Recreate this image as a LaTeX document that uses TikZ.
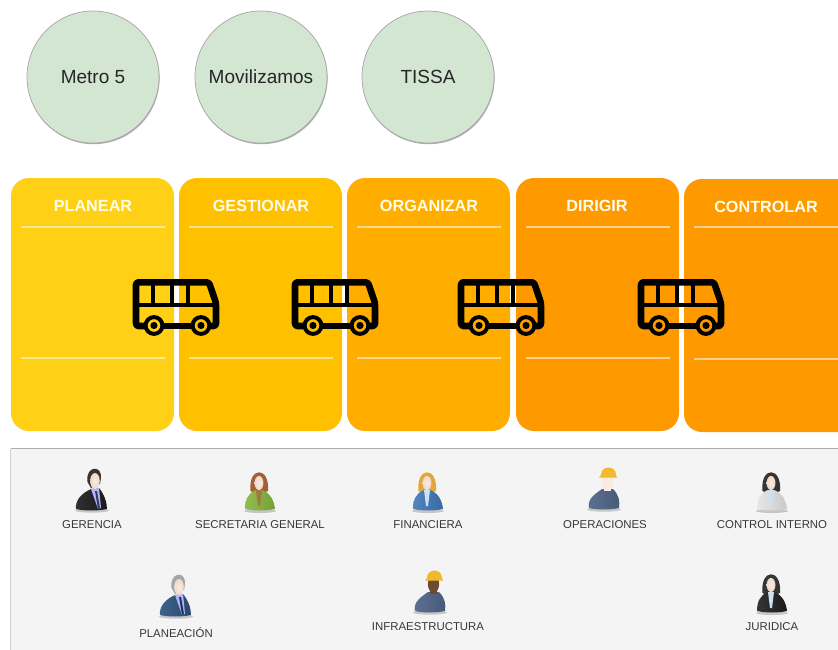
\documentclass[tikz,border=0pt]{standalone}
\usepackage{fontspec}
\setmainfont{Liberation Sans}
\usetikzlibrary{shadows}
\definecolor{cardA}{HTML}{FFD015}
\definecolor{cardB}{HTML}{FFC000}
\definecolor{cardC}{HTML}{FFAE00}
\definecolor{cardD}{HTML}{FF9900}
\definecolor{cardE}{HTML}{FF9900}
\definecolor{skinL}{HTML}{F9EAE2}
\definecolor{skinD}{HTML}{6E4A30}
\definecolor{circfill}{HTML}{D3E6D2}
\definecolor{hatc}{HTML}{F2B92C}
\definecolor{workc}{HTML}{4F6488}
\definecolor{greenj}{HTML}{86B53C}
\definecolor{bluej}{HTML}{3F78B8}
\definecolor{navyj}{HTML}{2F557F}
\definecolor{darkj}{HTML}{1E1E1E}
\definecolor{whitej}{HTML}{E4E4E4}
\definecolor{hairblack}{HTML}{353535}
\definecolor{hairgrey}{HTML}{A6A6A6}
\definecolor{hairred}{HTML}{A5603A}
\definecolor{hairblond}{HTML}{E0A83C}
\definecolor{tiedark}{HTML}{2E3E55}
\definecolor{tienavy}{HTML}{1D3550}
\definecolor{blouseb}{HTML}{A07A40}
\definecolor{blousec}{HTML}{CFE0F2}
\tikzset{
  circ/.style={circle,draw=black!35,line width=.7pt,fill=circfill,minimum size=132pt,inner sep=0pt,font=\fontsize{19}{21}\selectfont,text=black!85,
    drop shadow={shadow xshift=.6pt,shadow yshift=-1.2pt,fill=black!40,opacity=.8}},
  card/.style={rounded corners=18pt},
  headline/.style={draw=white,opacity=.55,line width=1.2pt},
  headtext/.style={text=white!92!yellow,font=\fontsize{16.2}{18}\selectfont\bfseries},
  lab/.style={font=\fontsize{11.4}{13}\selectfont,text=black!78,inner sep=0pt},
  pics/bus/.style={code={
    \draw[black,line width=6.6pt,line join=round,rounded corners=2.5pt] (12,47) -- (3,47) -- (3,3.3) -- (76,3.3) -- (83,24) -- (83,47) -- (78,47);
    \draw[black,line width=3.2pt] (3,26) -- (83,26) (20,3) -- (20,26) (39,3) -- (39,26) (55,3) -- (55,26);
    \draw[black,line width=6.6pt] (30,47) -- (59,47);
    \draw[black,line width=4pt] (21,46.5) circle (8.4) (68,46.5) circle (8.4);
    \fill[black] (21,46.5) circle (3.6) (68,46.5) circle (3.6);
  }},
  pics/manperson/.style n args={3}{code={
    \fill[black!40,opacity=.5] (0,-1.5) ellipse (17 and 2.2);
    \shade[left color=#2!92!white,right color=#2!85!black] (-16,-3) .. controls (-17,-12) and (-10,-19) .. (-1,-23) -- (7,-24) .. controls (12,-18) and (15,-10) .. (15,-3) .. controls (6,-1) and (-8,-1) .. cycle;
    \fill[white!70!blue] (-1,-23) -- (7,-24) -- (9,-4) -- (6,-3) -- cycle;
    \fill[#3] (3,-21) -- (5,-21) -- (8,-4) -- (6,-3) -- cycle;
    \fill[#1] (-4.5,-30) .. controls (-7,-46) and (10,-48) .. (9,-34) -- (8,-28) -- (-1,-24) -- cycle;
    \shade[inner color=skinL,outer color=skinL!85!brown] (3,-31) ellipse (4.8 and 8);
  }},
  pics/womanperson/.style n args={3}{code={
    \fill[black!40,opacity=.5] (0,-1) ellipse (16 and 2);
    \fill[#1] (-9.5,-21) .. controls (-12,-46) and (10,-46) .. (8,-21) .. controls (3,-18) and (-5,-18) .. cycle;
    \shade[left color=#2!90!white,right color=#2!88!black] (-15,-3) .. controls (-15,-12) and (-12,-19) .. (-4,-22) -- (2,-22) .. controls (10,-19) and (14,-12) .. (15,-3) .. controls (6,-1) and (-6,-1) .. cycle;
    \fill[#3] (-4,-22) -- (2,-22) -- (0,-6) -- (-2,-6) -- cycle;
    \shade[inner color=skinL,outer color=skinL!85!brown] (-1,-29) ellipse (4.4 and 7);
  }},
  pics/workerperson/.style={code={
    \fill[black!40,opacity=.5] (0,-1.5) ellipse (17 and 2.2);
    \shade[left color=workc!92!white,right color=workc!90!black] (-15,-3) .. controls (-17,-12) and (-9,-17) .. (-2,-22) -- (9,-22) .. controls (15,-16) and (16,-10) .. (15,-3) .. controls (6,-1) and (-7,-1) .. cycle;
    \fill[#1] (3.5,-30) ellipse (5.6 and 9);
    \fill[#1] (0,-26) rectangle (7,-20);
    \fill[hatc] (-3,-36) .. controls (-3,-46) and (12,-46) .. (12,-36) -- (13,-33.5) -- (-5,-33.5) -- cycle;
  }},
}
\begin{document}
\begin{tikzpicture}[x=1pt,y=-1pt]
\useasboundingbox (0,0) rectangle (838,650);
\fill[white] (0,0) rectangle (838,650);
\clip (0,0) rectangle (838,650);
% circles
\node[circ] (metro) at (93,77) {Metro 5};
\node[circ] (movil) at (261,77) {Movilizamos};
\node[circ] (tissa) at (428,77) {TISSA};
% cards
\fill[card,cardA] (11,178) rectangle (174,431);
\fill[card,cardB] (179,178) rectangle (342,431);
\fill[card,cardC] (347,178) rectangle (510,431);
\fill[card,cardD] (516,178) rectangle (679,431);
\fill[card,cardE] (684,179) rectangle (860,432);
\node[headtext] (planear) at (93,206) {PLANEAR};
\node[headtext] (gestionar) at (261,206) {GESTIONAR};
\node[headtext] (organizar) at (429,206) {ORGANIZAR};
\node[headtext] (dirigir) at (597,206) {DIRIGIR};
\node[headtext] (controlar) at (766,207) {CONTROLAR};
\foreach \a/\y in {21/227,21/358,189/227,189/358,357/227,357/358,526/227,526/358,694/227,694/359}
  \draw[headline] (\a,\y) -- +(144,0);
% buses
\pic at (133,279) {bus};
\pic at (292,279) {bus};
\pic at (458,279) {bus};
\pic at (638,279) {bus};
% panel
\fill[black!4.5] (10.5,448.5) rectangle (860,660);
\draw[black!18,line width=.7pt] (10.5,660) -- (10.5,448.5);
\draw[black!32,line width=.7pt] (10.5,448.5) -- (860,448.5);
% people
\pic at (92,512) {manperson={hairblack}{darkj}{tiedark}};
\pic at (260,512) {womanperson={hairred}{greenj}{blouseb}};
\pic at (428,512) {womanperson={hairblond}{bluej}{blousec}};
\pic at (604,511) {workerperson={skinL}};
\pic at (772,512) {womanperson={hairblack}{whitej}{blousec}};
\pic at (176,618) {manperson={hairgrey}{navyj}{tienavy}};
\pic at (430,614) {workerperson={skinD}};
\pic at (772,614) {womanperson={hairblack}{darkj}{blousec}};
\node[lab] (gerencia) at (92,525) {GERENCIA};
\node[lab] (secretaria) at (260,525) {SECRETARIA GENERAL};
\node[lab] (financiera) at (428,525) {FINANCIERA};
\node[lab] (operaciones) at (605,525) {OPERACIONES};
\node[lab] (control) at (772,525) {CONTROL INTERNO};
\node[lab] (planeacion) at (176,633) {PLANEACIÓN};
\node[lab] (infra) at (428,627) {INFRAESTRUCTURA};
\node[lab] (juridica) at (772,627) {JURIDICA};
\end{tikzpicture}
\end{document}
